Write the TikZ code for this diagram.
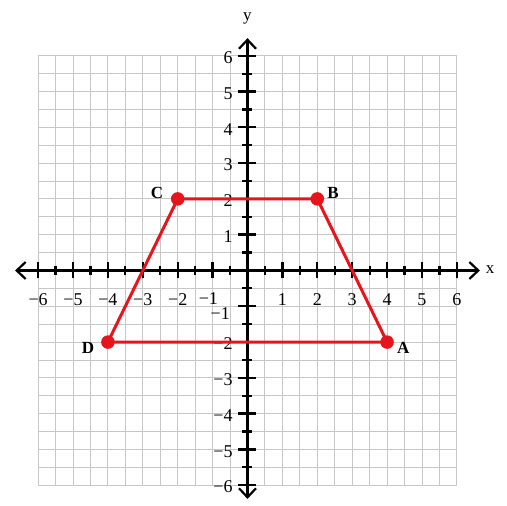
\documentclass[tikz,border=0pt]{standalone}
\usepackage{fontspec}
\setmainfont{Liberation Serif}
\usetikzlibrary{arrows.meta}
\definecolor{trapred}{HTML}{E8141B}
\begin{document}
\begin{tikzpicture}[x=34.9pt,y=35.8pt,
  gridline/.style={draw=black!22, line width=0.9pt},
  axisline/.style={line width=2.2pt,
    {Straight Barb[length=9pt,width=17pt,line width=2.2pt]}-{Straight Barb[length=9pt,width=17pt,line width=2.2pt]}},
  bigtick/.style={line width=2.4pt},
  smalltick/.style={line width=2.2pt},
  numlbl/.style={font=\fontsize{18}{20}\selectfont, inner sep=0pt},
  axlbl/.style={font=\fontsize{17}{19}\selectfont, inner sep=0pt},
  ptlbl/.style={font=\bfseries\fontsize{17}{19}\selectfont, inner sep=0pt},
  redline/.style={draw=trapred, line width=3pt, line join=round},
  dot/.style={circle, fill=trapred, minimum size=13.5pt, inner sep=0pt}]
\useasboundingbox (-7.092,-6.578) rectangle (7.436,7.556);
\fill[white] (-7.092,-6.578) rectangle (7.436,7.556);
% grid
\foreach \k in {-12,...,12}{
  \draw[gridline] (\k/2,-6) -- (\k/2,6);
  \draw[gridline] (-6,\k/2) -- (6,\k/2);
}
% axes
\coordinate (xl) at (-6.66,0);
\coordinate (xr) at (6.66,0);
\coordinate (yb) at (0,-6.38);
\coordinate (yt) at (0,6.49);
\draw[axisline] (xl) -- (xr);
\draw[axisline] (yb) -- (yt);
\node[axlbl] (xlab) at (6.95,0.02) {x};
\node[axlbl] (ylab) at (0,7.05) {y};
% ticks
\foreach \i in {-6,...,6}{
  \ifnum\i=0\else
  \draw[bigtick] (\i,-8pt) -- (\i,8pt);
  \draw[bigtick] (-9pt,\i) -- (9pt,\i);
  \fi
}
\foreach \i in {-11,-9,...,11}{
  \draw[smalltick] (\i/2,-4.5pt) -- (\i/2,4.5pt);
  \draw[smalltick] (-5pt,\i/2) -- (5pt,\i/2);
}
% axis labels
\foreach \i in {1,...,6}{
  \node[numlbl] (xp\i) at (\i,-0.82) {\i};
  \node[numlbl, anchor=east] (yp\i) at (-0.42,\i-0.05) {\i};
}
\foreach \i in {2,...,6}{
  \node[numlbl] (xn\i) at (-\i,-0.82) {−\i};
  \node[numlbl, anchor=east] (yn\i) at (-0.42,-\i-0.05) {−\i};
}
\node[numlbl] (xn1) at (-1.12,-0.78) {−1};
\node[numlbl, anchor=east] (yn1) at (-0.5,-1.2) {−1};
% trapezoid
\coordinate (pA) at (4,-2);
\coordinate (pB) at (2,2);
\coordinate (pC) at (-2,2);
\coordinate (pD) at (-4,-2);
\draw[redline] (pA) -- (pB) -- (pC) -- (pD) -- cycle;
\node[dot] (A) at (pA) {};
\node[dot] (B) at (pB) {};
\node[dot] (C) at (pC) {};
\node[dot] (D) at (pD) {};
\node[ptlbl] (lA) at (4.46,-2.16) {A};
\node[ptlbl] (lB) at (2.45,2.16) {B};
\node[ptlbl] (lC) at (-2.59,2.16) {C};
\node[ptlbl] (lD) at (-4.57,-2.16) {D};
\end{tikzpicture}
\end{document}
